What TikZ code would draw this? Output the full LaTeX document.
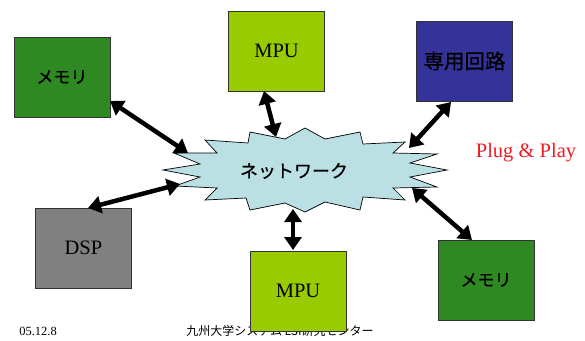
\documentclass[tikz,border=0pt]{standalone}
\usepackage{fontspec}
\setmainfont{Liberation Serif}
\newfontfamily\jp[FakeBold=0.6]{Noto Sans CJK JP}
\newfontfamily\jpr{Noto Sans CJK JP}
\usetikzlibrary{arrows.meta}
\definecolor{memgreen}{RGB}{47,137,35}
\definecolor{mpugreen}{RGB}{153,204,0}
\definecolor{navyc}{RGB}{51,51,153}
\definecolor{grayc}{RGB}{128,128,128}
\definecolor{netblue}{RGB}{186,224,228}
\definecolor{plugred}{RGB}{235,28,36}
\tikzset{
  unitbox/.style={draw=black!80, line width=0.8pt, minimum width=96pt, minimum height=80pt, inner sep=0pt},
  jplabel/.style={font=\jp\fontsize{17pt}{19pt}\selectfont},
  enlabel/.style={font=\fontsize{20.5pt}{22pt}\selectfont},
  dblarrow/.style={line width=4.5pt, {Triangle[length=13pt,width=17pt]}-{Triangle[length=13pt,width=17pt]}},
  netshape/.style={draw=black, line width=0.7pt, fill=netblue},
}
\begin{document}
\begin{tikzpicture}[x=1pt,y=-1pt]
\useasboundingbox (0,0) rectangle (585,340);
% network starburst
\draw[netshape] (250,132) -- (285,139) -- (305,128) -- (325,139) -- (360,132) -- (363,144)
  -- (405,142) -- (393,153) -- (437,154) -- (410,163) -- (447,170) -- (410,177)
  -- (437,187) -- (393,188) -- (405,200) -- (363,197) -- (360,210) -- (325,202)
  -- (305,212) -- (285,203) -- (250,210) -- (246,198) -- (205,200) -- (217,188)
  -- (175,186) -- (200,177) -- (163,170) -- (200,164) -- (174,153) -- (217,153)
  -- (205,140) -- (248,143) -- cycle;
\node[font=\jp\fontsize{18pt}{20pt}\selectfont] (net) at (294,171) {ネットワーク};
% footer
\node[font=\fontsize{12.5pt}{14pt}\selectfont] (date) at (38,331) {05.12.8};
\node[font=\jpr\fontsize{12pt}{14pt}\selectfont] (org) at (280,331) {九州大学システム LSI研究センター};
% boxes
\node[unitbox, fill=memgreen, jplabel] (mem1) at (62,77) {メモリ\hspace{25pt}};
\node[unitbox, fill=mpugreen, enlabel] (mpu1) at (276.5,51) {MPU};
\node[unitbox, fill=navyc, font=\jp\fontsize{20.5pt}{22pt}\selectfont] (asic) at (464.5,61) {専用回路};
\node[unitbox, fill=grayc, enlabel] (dsp) at (83.5,248) {DSP};
\node[unitbox, fill=mpugreen, enlabel] (mpu2) at (298,291) {MPU};
\node[unitbox, fill=memgreen, jplabel] (mem2) at (486,280) {メモリ\hspace{36pt}};
\node[enlabel, text=plugred] (plug) at (526,153) {Plug \& Play};
% arrow end points
\coordinate (a1s) at (110,101); \coordinate (a1n) at (188,153);
\coordinate (a2s) at (264,91);  \coordinate (a2n) at (276,137);
\coordinate (a3s) at (451,102); \coordinate (a3n) at (409,148);
\coordinate (a4s) at (88,208);  \coordinate (a4n) at (180,184);
\coordinate (a5s) at (293,250); \coordinate (a5n) at (293,209);
\coordinate (a6s) at (472,240); \coordinate (a6n) at (412,188);
\draw[dblarrow] (a1s) -- (a1n);
\draw[dblarrow] (a2s) -- (a2n);
\draw[dblarrow] (a3s) -- (a3n);
\draw[dblarrow] (a4s) -- (a4n);
\draw[dblarrow] (a5s) -- (a5n);
\draw[dblarrow] (a6s) -- (a6n);
\end{tikzpicture}
\end{document}
